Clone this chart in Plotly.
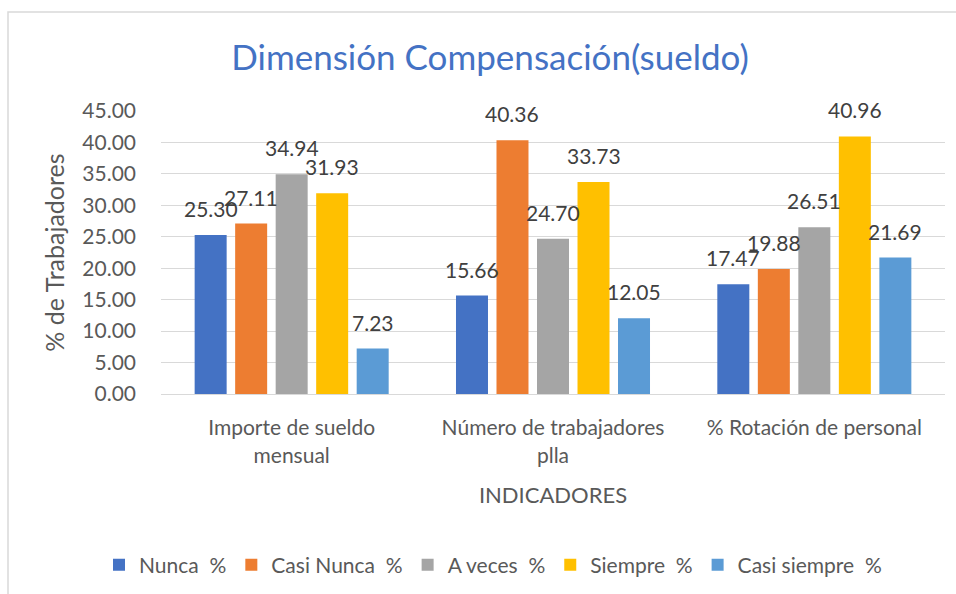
import plotly.graph_objects as go

categories = ["Importe de sueldo<br>mensual", "Número de trabajadores<br>plla", "% Rotación de personal"]
series_names = ["Nunca\u00a0\u00a0%", "Casi Nunca\u00a0\u00a0%", "A veces\u00a0\u00a0%", "Siempre\u00a0\u00a0%", "Casi siempre\u00a0\u00a0%"]
nunca = [25.30, 15.66, 17.47]
casi_nunca = [27.11, 40.36, 19.88]
a_veces = [34.94, 24.70, 26.51]
siempre = [31.93, 33.73, 40.96]
casi_siempre = [7.23, 12.05, 21.69]
values = [nunca, casi_nunca, a_veces, siempre, casi_siempre]
colors = ["#4472C4", "#ED7D31", "#A5A5A5", "#FFC000", "#5B9BD5"]

FONT = "Lato"
W, H = 956, 594
ML, MR, MT, MB = 161, 11, 111, 200
bargap = 0.225
plot_w = W - ML - MR
cat_w = plot_w / len(categories)
slot = cat_w * (1 - bargap) / len(values)

fig = go.Figure()
for i, (name, vals, col) in enumerate(zip(series_names, values, colors)):
    fig.add_trace(go.Bar(name=name, x=categories, y=vals, marker_color=col,
                         marker_line_width=0))
    for cat, v in zip(categories, vals):
        fig.add_annotation(x=cat, y=v, xref="x", yref="y", text=f"{v:.2f}",
                           showarrow=False, yanchor="bottom",
                           xshift=(i - (len(values) - 1) / 2) * slot, yshift=12,
                           font=dict(family=FONT, size=21, color="#404040"))

fig.update_layout(
    width=W, height=H,
    margin=dict(l=ML, r=MR, t=MT, b=MB, autoexpand=False),
    barmode="group", bargap=bargap, bargroupgap=0.21,
    plot_bgcolor="white", paper_bgcolor="white",
    font=dict(family=FONT, color="#595959"),
    title=dict(text="Dimensión Compensación(sueldo)", x=490 / W, xref="container",
               xanchor="center", y=1 - 58 / H, yref="container", yanchor="middle",
               font=dict(family=FONT, size=35, color="#4472C4")),
    legend=dict(orientation="h", x=493 / W, xref="container", xanchor="center",
                y=1 - 565 / H, yref="container", yanchor="middle",
                font=dict(family=FONT, size=21, color="#595959"),
                itemwidth=30, tracegroupgap=0),
    showlegend=True,
)
fig.update_yaxes(range=[0, 45], dtick=5, tickformat=".2f",
                 gridcolor="#D9D9D9", gridwidth=1, zeroline=False,
                 showline=False, ticks="", ticklabelstandoff=24,
                 tickfont=dict(family=FONT, size=21, color="#595959"),
                 title=dict(text="% de Trabajadores", standoff=10,
                            font=dict(family=FONT, size=25, color="#595959")))
fig.update_xaxes(showline=True, linecolor="#D9D9D9", linewidth=1, ticks="",
                 tickfont=dict(family=FONT, size=21, color="#595959"),
                 ticklabelstandoff=15,
                 title=dict(text="INDICADORES", standoff=22,
                            font=dict(family=FONT, size=22, color="#595959")))
fig.add_shape(type="rect", xref="paper", yref="paper",
              x0=(8 - ML) / plot_w, x1=(1000 - ML) / plot_w,
              y0=-(620 - (H - MB)) / (H - MT - MB), y1=(H - MB - 12) / (H - MT - MB),
              line=dict(color="#D9D9D9", width=1.5), fillcolor="rgba(0,0,0,0)", layer="below")

fig.write_html("out.html", config={"displayModeBar": False},
               post_script="document.body.style.margin='0';")
